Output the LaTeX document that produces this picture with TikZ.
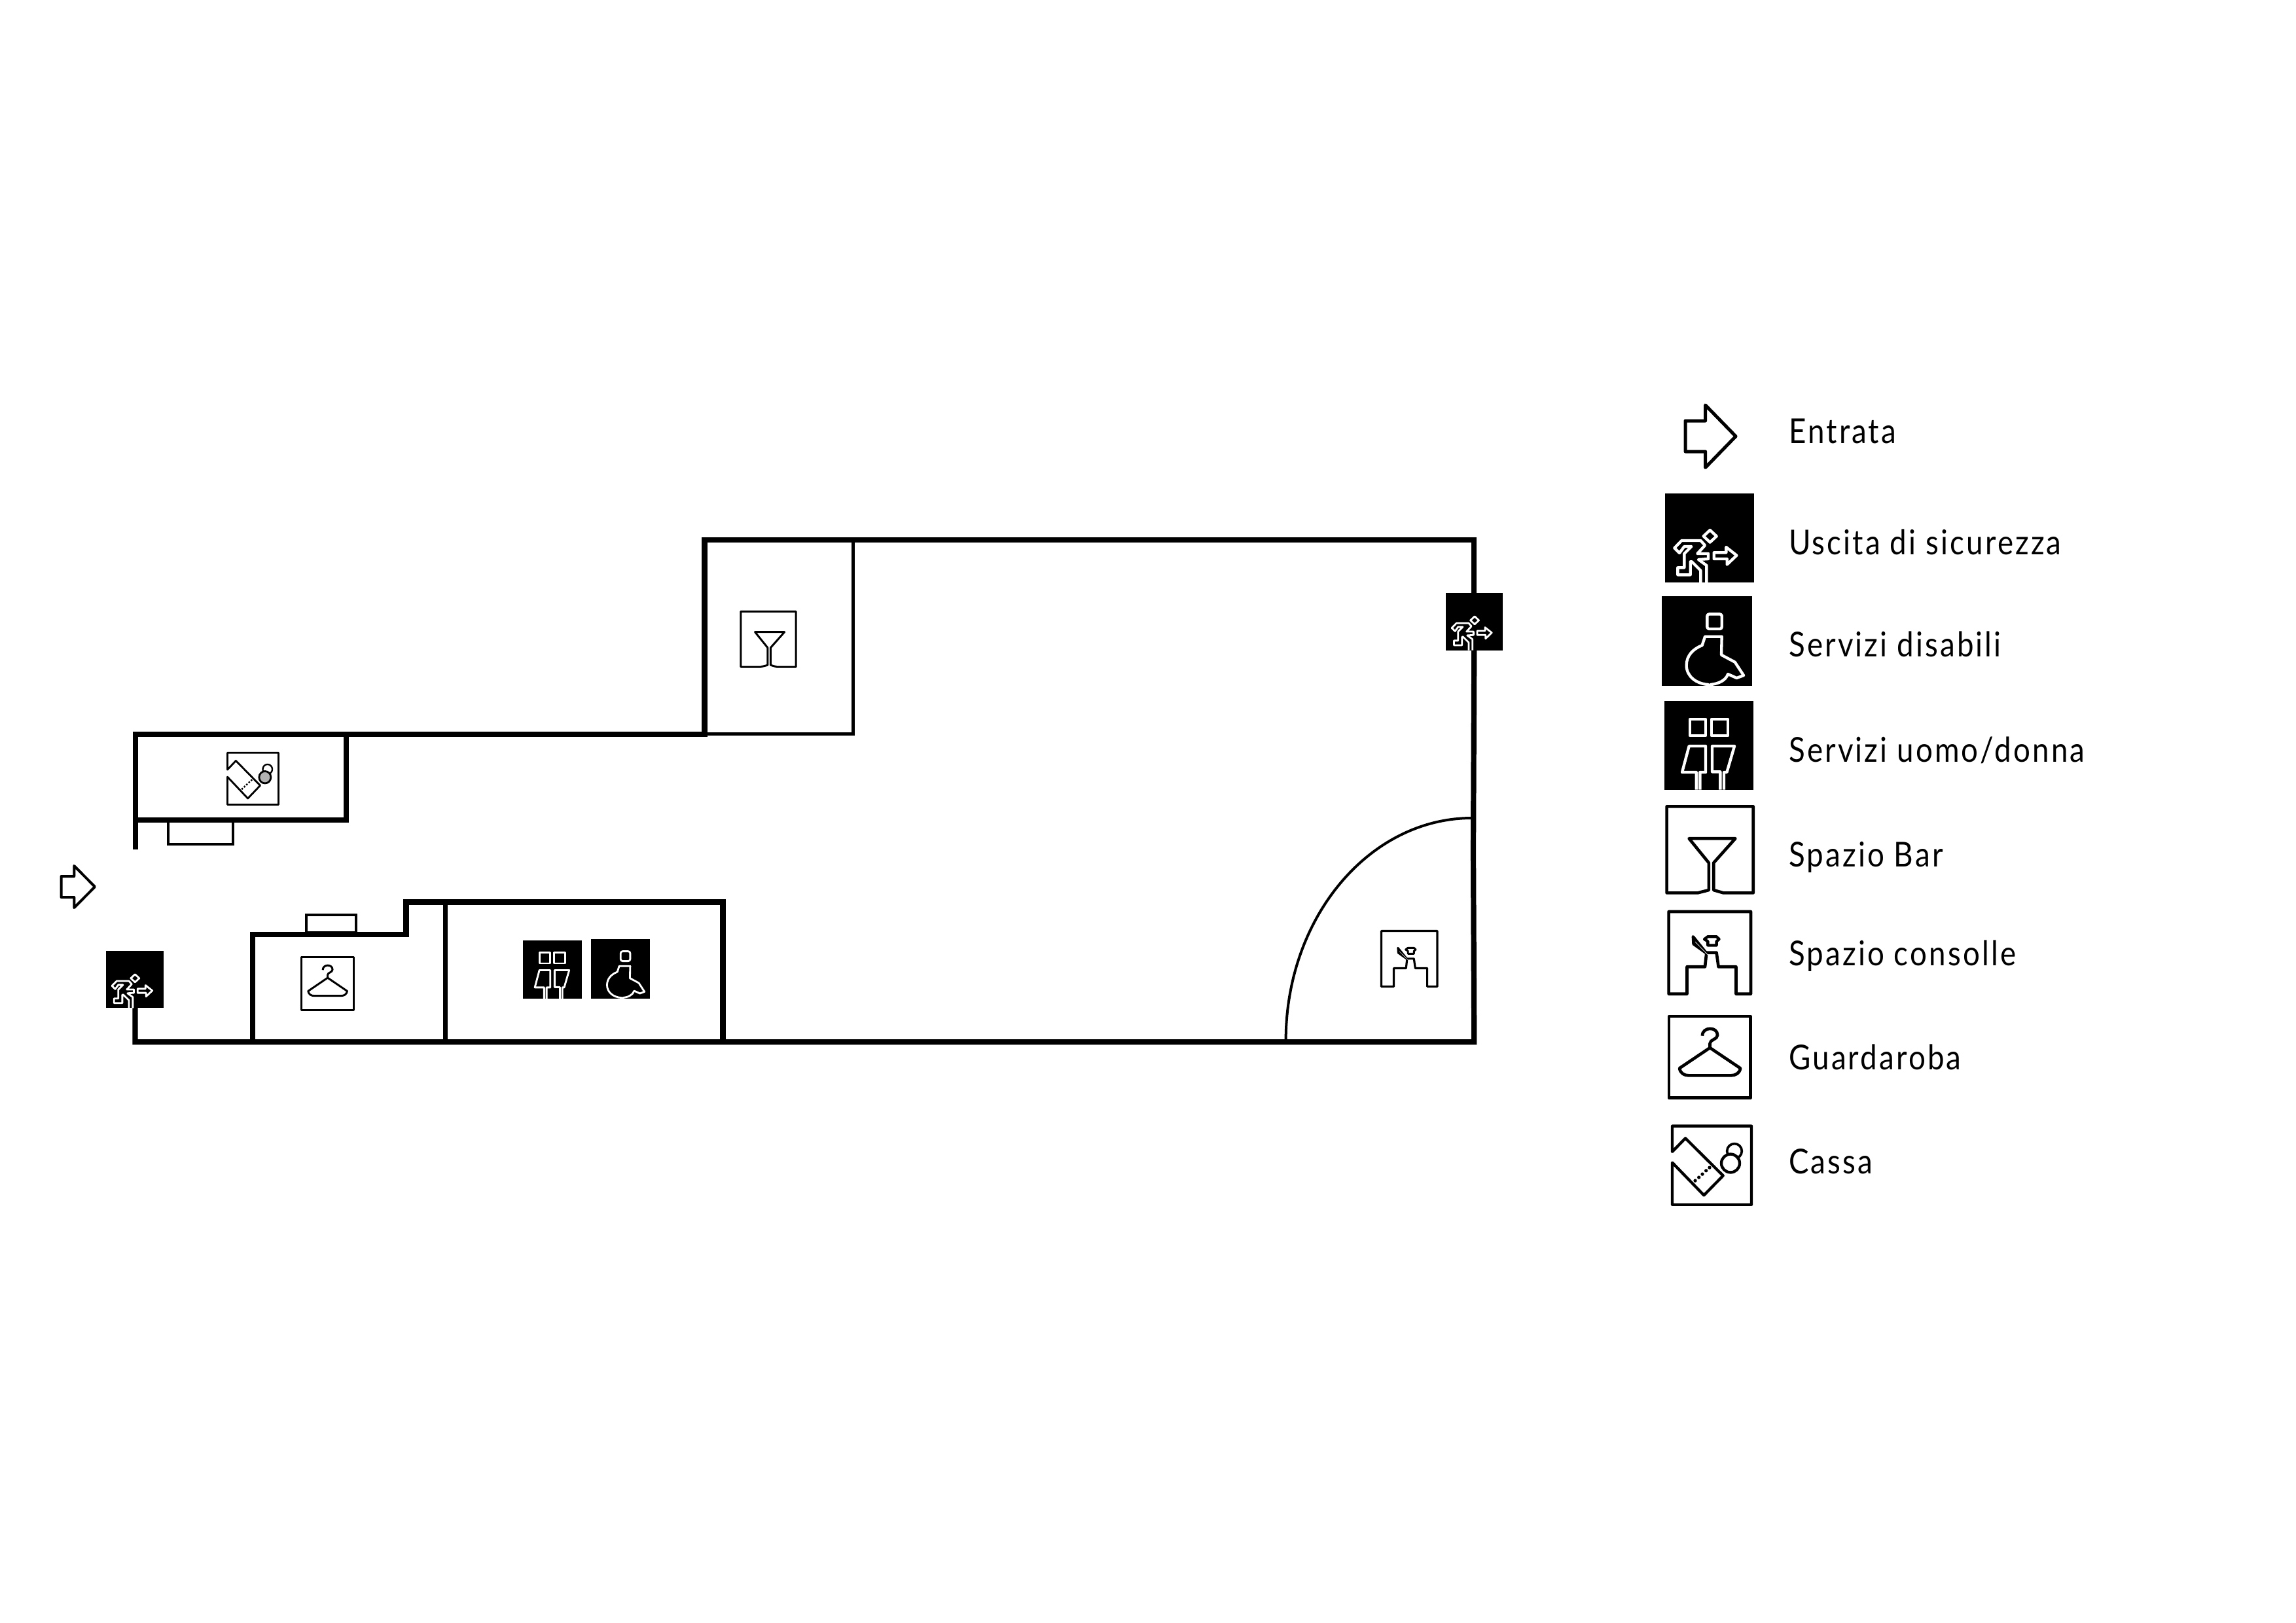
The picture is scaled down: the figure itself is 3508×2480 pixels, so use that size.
\documentclass[tikz,border=0pt]{standalone}
\usepackage{fontspec}
\newfontfamily\lgfont[FakeStretch=0.872,LetterSpace=6]{Lato}
\tikzset{
  wall/.style={draw=black,line width=8.2pt,line join=miter},
  thinwall/.style={draw=black,line width=4.6pt,line join=miter},
  fixture/.style={draw=black,line width=3.4pt},
  entry/.style={draw=black,line join=round},
  legendtext/.style={font=\lgfont\fontsize{52.4}{60}\selectfont,anchor=base west,inner sep=0pt,text=black}
}
\newcommand{\drawicon}[9]{%
  \pgfmathsetmacro\sx{(#4-#2)/(#8-#6)}%
  \pgfmathsetmacro\sy{(#5-#3)/(#9-#7)}%
  \pgfmathsetmacro\ox{#2-#6*\sx}%
  \pgfmathsetmacro\oy{#3-#7*\sy}%
  \begin{scope}[shift={(\ox,\oy)},x=\sx pt,y=-\sy pt,
    iconline/.style={line width={13*\sx pt},line join=round}]
  #1
  \end{scope}}
\newcommand{\exitbody}{%
  \fill[black] (43,42) rectangle (450,450);
  \draw[iconline,white] (248,210)--(278,238)--(248,266)--(218,238)--cycle;
  \draw[iconline,white] (266,313)--(322,313)--(322,288)--(370,326)--(326,368)--(326,342)--(266,342)--cycle;
  \draw[iconline,white] (232,450)--(232,372)--(195,345)--(240,342)--(240,318)--(190,318)--(225,280)--(205,258)--(118,258)--(85,292)--(108,315)--(130,285)--(163,285)--(130,318)--(130,382)--(100,382)--(100,415)--(158,415)--(158,355)--(165,355)--(205,395)--(205,450);
}
\newcommand{\disabledbody}{%
  \fill[black] (28,32) rectangle (440,443);
  \draw[iconline,white,rounded corners=3pt] (235,115) rectangle (302,183);
  \draw[iconline,white] (302,218)--(225,218)--(212,258) .. controls (170,275) and (140,305) .. (140,350) .. controls (140,400) and (185,435) .. (240,438) -- (245,452) -- (250,438) .. controls (285,435) and (320,420) .. (330,390) -- (370,408) -- (402,396) -- (362,335) -- (300,302) -- cycle;
}
\newcommand{\wcbody}{%
  \fill[black] (39,33) rectangle (446,440);
  \draw[iconline,white] (155,117) rectangle (228,192);
  \draw[iconline,white] (255,117) rectangle (330,192);
  \draw[iconline,white] (202,440)--(202,360)--(228,360)--(228,240)--(152,240)--(120,360)--(185,360)--(185,440);
  \draw[iconline,white] (295,440)--(295,358)--(258,358)--(258,240)--(360,240)--(325,360)--(312,360)--(312,440);
}
\newcommand{\barbody}{%
  \draw[iconline,black,line width={14*\sx pt}] (152,168)--(365,168)--(265,280)--(265,405)--(310,418)--(447,418)--(447,21)--(50,21)--(50,418)--(192,418)--(243,405)--(243,280)--cycle;
}
\newcommand{\consolebody}{%
  \draw[iconline,black,line width={14*\sx pt}] (142,402)--(58,402)--(58,23)--(436,23)--(436,402)--(368,402)--(368,277)--(287,277)--(278,212)--(232,212)--(225,277)--(142,277)--cycle;
  \draw[iconline,black,fill=black] (170,138)--(232,215)--(172,172)--cycle;
  \draw[white,line width={2*\sx pt}] (180,162)--(238,222);
  \draw[iconline,black] (238,138)--(278,138)--(290,150)--(278,160)--(278,178)--(238,178)--(238,160)--(222,150)--cycle;
}
\newcommand{\hangerbody}{%
  \draw[iconline,black,line width={14*\sx pt}] (60,24) rectangle (435,398);
  \draw[iconline,black,line width={14*\sx pt}] (213,113) .. controls (213,70) and (283,70) .. (283,110) .. controls (283,130) and (248,130) .. (248,148) -- (248,168);
  \draw[iconline,black,line width={14*\sx pt}] (248,168)--(108,262) .. controls (112,285) and (130,295) .. (150,295) -- (345,295) .. controls (365,295) and (385,285) .. (388,262) -- cycle;
}
\newcommand{\cashbody}{%
  \draw[iconline,black] (75,165)--(75,47)--(438,47)--(438,408)--(75,408)--(75,215)--(220,365)--(308,275)--(135,103)--cycle;
  \draw[iconline,black,line width={11*\sx pt}] (360,162) circle (34);
  \draw[iconline,black,fill=\cashcol] (342,218) circle (42);
  \foreach \dotu/\dotv in {180/298,197/283,213/268,230/252,246/238}
    \fill[black] (\dotu,\dotv) circle (8);
}
\newcommand{\exiticon}[4]{\drawicon{\exitbody}{#1}{#2}{#3}{#4}{43}{42}{450}{450}}
\newcommand{\disabledicon}[4]{\drawicon{\disabledbody}{#1}{#2}{#3}{#4}{28}{32}{440}{443}}
\newcommand{\wcicon}[4]{\drawicon{\wcbody}{#1}{#2}{#3}{#4}{39}{33}{446}{440}}
\newcommand{\baricon}[4]{\drawicon{\barbody}{#1}{#2}{#3}{#4}{43}{14}{454}{425}}
\newcommand{\consoleicon}[4]{\drawicon{\consolebody}{#1}{#2}{#3}{#4}{51}{16}{443}{409}}
\newcommand{\hangericon}[4]{\drawicon{\hangerbody}{#1}{#2}{#3}{#4}{53}{17}{442}{405}}
\newcommand{\cashicon}[4]{\drawicon{\cashbody}{#1}{#2}{#3}{#4}{68}{40}{445}{415}}
\begin{document}
\begin{tikzpicture}[x=1pt,y=-1pt]
\fill[white] (0,0) rectangle (3508,2480);
\useasboundingbox (0,0) rectangle (3508,2480);
% walls
\draw[thinwall] (1076.5,1121.4)--(1303.7,1121.4)--(1303.7,825);
\draw[wall] (206.6,1298)--(206.6,1121.6)--(1076.5,1121.6)--(1076.5,825)--(2252.3,825)--(2252.3,910);
\draw[wall] (206.6,1253)--(528.6,1253)--(528.6,1121.6);
\draw[wall] (2252.3,990)--(2251,1300)--(2252.3,1592.3)--(206.4,1592.3)--(206.4,1536);
\draw[wall] (386,1596)--(386,1427.7)--(620.5,1427.7)--(620.5,1378.5)--(1104.5,1378.5)--(1104.5,1592);
\draw[wall,line width=7pt] (680.8,1378.5)--(680.8,1596);
% fixtures
\draw[fixture] (257,1253) rectangle (356,1290);
\draw[fixture] (468,1425) rectangle (544,1398);
\draw[line width=4pt] (1964.6,1590) .. controls (1964.6,1402) and (2092,1250) .. (2249,1250);
% entrance arrow in the plan
\draw[entry,line width=4pt] (93.6,1339)--(113.3,1339)--(113.3,1323)--(145,1355)--(113.3,1387)--(113.3,1371)--(93.6,1371)--cycle;
% plan icons
\def\cashcol{black!30}
\cashicon{346}{1148.6}{427}{1231}
\def\cashcol{white}
\exiticon{162}{1452.7}{250}{1540.3}
\exiticon{2209.2}{905.7}{2296.3}{993.5}
\baricon{1130.4}{932.8}{1217.5}{1020.6}
\consoleicon{2108.9}{1421}{2197.6}{1509}
\hangericon{459}{1461.4}{542}{1545.4}
\wcicon{799.4}{1437}{888.5}{1526.4}
\disabledicon{903}{1435.4}{993}{1525.7}
% legend
\draw[entry,line width=5pt] (2575,643)--(2605.6,643)--(2605.6,619)--(2652,666.7)--(2605.6,714.5)--(2605.6,690)--(2575,690)--cycle;
\exiticon{2544.3}{754}{2680}{890}
\disabledicon{2539.3}{910.7}{2676.7}{1047.7}
\wcicon{2543}{1071}{2678.7}{1206.7}
\baricon{2544.3}{1230}{2681}{1366.7}
\consoleicon{2547.3}{1390.7}{2677.3}{1521}
\hangericon{2547.7}{1550.7}{2677}{1680}
\cashicon{2552.7}{1718.3}{2678.3}{1843}
\node[legendtext] (t1) at (2733,677) {Entrata};
\node[legendtext] (t2) at (2733,847.5) {Uscita di sicurezza};
\node[legendtext] (t3) at (2733,1003) {Servizi disabili};
\node[legendtext] (t4) at (2733,1164.5) {Servizi uomo/donna};
\node[legendtext] (t5) at (2733,1324.6) {Spazio Bar};
\node[legendtext] (t6) at (2733,1475) {Spazio consolle};
\node[legendtext] (t7) at (2733,1634) {Guardaroba};
\node[legendtext] (t8) at (2733,1793) {Cassa};
\end{tikzpicture}
\end{document}
